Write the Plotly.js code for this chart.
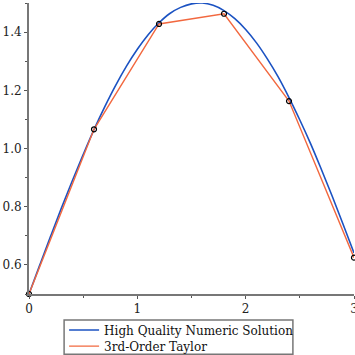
<!DOCTYPE html>
<html><head><meta charset="utf-8">
<script src="https://cdn.plot.ly/plotly-3.0.1.min.js"></script>
<style>html,body{margin:0;padding:0;background:#fff}#c{width:355px;height:355px}</style>
</head><body><div id="c"></div>
<script>
const numX = [0,0.1,0.2,0.3,0.4,0.5,0.6,0.7,0.8,0.9,1.0,1.1,1.2,1.3,1.4,1.5,1.6,1.7,1.8,1.9,2.0,2.1,2.2,2.3,2.4,2.5,2.6,2.7,2.8,2.9,3.0];
const numY = [0.5,0.6,0.699,0.796,0.889,0.979,1.065,1.144,1.217,1.283,1.341,1.391,1.432,1.464,1.485,1.497,1.5,1.492,1.474,1.446,1.409,1.363,1.308,1.246,1.175,1.098,1.016,0.927,0.835,0.739,0.641];
const tayX = [0,0.6,1.2,1.8,2.4,3.0];
const tayY = [0.5,1.066,1.428,1.463,1.163,0.625];
const names = ["High Quality Numeric Solution","3rd-Order Taylor"];

const traces = [
  {x:numX,y:numY,mode:'lines',name:names[0],legend:'legend',line:{color:'#1b52c2',width:1.6,shape:'spline'},cliponaxis:false},
  {x:tayX,y:tayY,mode:'lines',name:names[1],legend:'legend2',line:{color:'#f2683f',width:1.4},cliponaxis:false},
  {x:tayX,y:tayY,mode:'markers',showlegend:false,cliponaxis:false,marker:{symbol:'circle-open',size:5,color:'#000',line:{width:1.2,color:'#000'}}}
];
const axisCommon = {showgrid:false,zeroline:false,showline:true,linecolor:'#777',linewidth:2,ticks:'outside',ticklen:3,tickcolor:'#555',tickwidth:1,ticklabeloverflow:'allow',tickfont:{family:'DejaVu Serif',size:12,color:'#222'}};
const legCommon = {xanchor:'left',yanchor:'top',borderwidth:0,bgcolor:'rgba(0,0,0,0)',font:{family:'DejaVu Serif',size:12,color:'#111'},itemwidth:30};
const layout = {
  width:355,height:355,margin:{l:29,r:1,t:3,b:61,autoexpand:false},
  paper_bgcolor:'#fff',plot_bgcolor:'#fff',
  font:{family:'DejaVu Serif',size:12,color:'#222'},
  xaxis:Object.assign({},axisCommon,{range:[0,3],tickvals:[0,1,2,3],ticktext:['0','1','2','3'],minor:{tickvals:[0.5,1.5,2.5],ticks:'outside',ticklen:2,tickcolor:'#555'}}),
  yaxis:Object.assign({},axisCommon,{range:[0.5,1.5],tickvals:[0.6,0.8,1.0,1.2,1.4],ticktext:['0.6','0.8','1.0','1.2','1.4'],minor:{tickvals:[0.5,0.7,0.9,1.1,1.3,1.5],ticks:'outside',ticklen:2,tickcolor:'#555'}}),
  showlegend:true,
  legend:Object.assign({},legCommon,{x:0.108,y:-0.0741}),
  legend2:Object.assign({},legCommon,{x:0.108,y:-0.1293}),
  shapes:[{type:'rect',xref:'paper',yref:'paper',x0:0.108,x1:0.812,y0:-0.207,y1:-0.0897,line:{color:'#777',width:1.5},fillcolor:'rgba(0,0,0,0)',layer:'below'}]
};
Plotly.newPlot('c',traces,layout,{displayModeBar:false,staticPlot:true});
</script></body></html>
